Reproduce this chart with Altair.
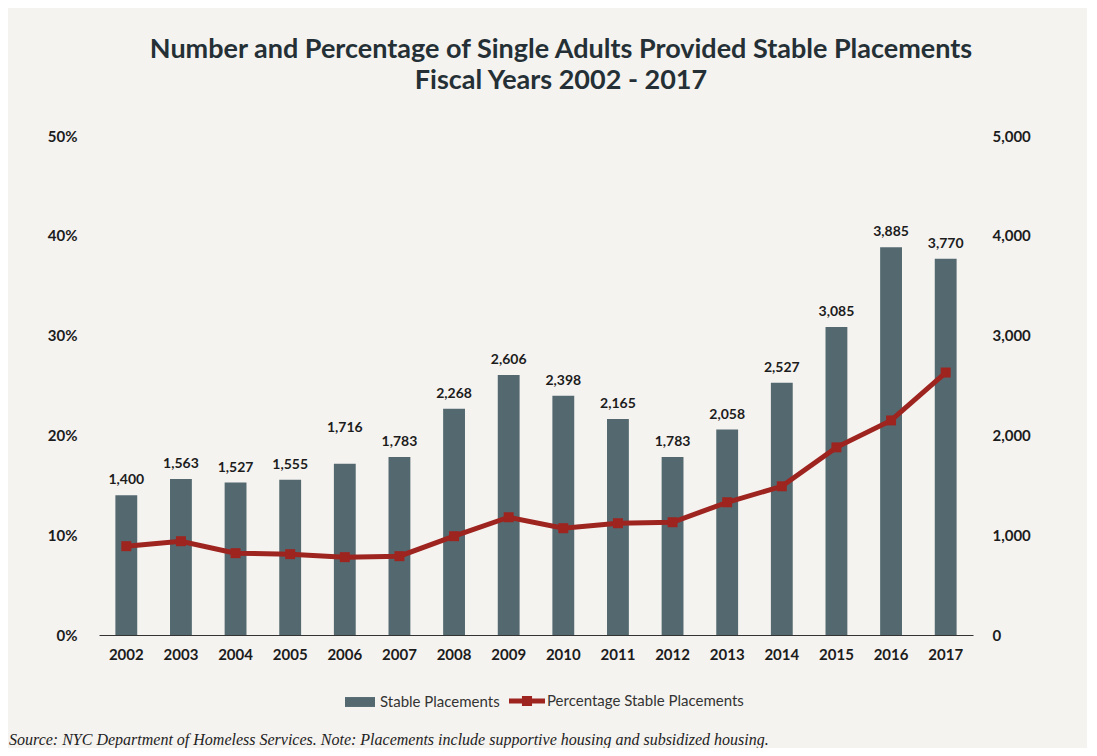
import altair as alt
import pandas as pd

years = [str(y) for y in range(2002, 2018)]
placements = [1400, 1563, 1527, 1555, 1716, 1783, 2268, 2606, 2398, 2165, 1783, 2058, 2527, 3085, 3885, 3770]
pct = [8.9, 9.4, 8.2, 8.1, 7.8, 7.9, 9.9, 11.8, 10.7, 11.2, 11.3, 13.3, 14.9, 18.8, 21.5, 26.3]
bar_series = "Stable Placements"
line_series = "Percentage Stable Placements"
right_ticks = [0, 1000, 2000, 3000, 4000, 5000]
left_ticks = [0, 10, 20, 30, 40, 50]
title_lines = ["Number and Percentage of Single Adults Provided Stable Placements",
               "Fiscal Years 2002 - 2017"]
source_note = "Source:  NYC Department of Homeless Services. Note: Placements include supportive housing and subsidized housing."

BAR = "#53696f"
RED = "#9e2420"
TXT = "#1c1c1c"
FONT = "Lato"

df = pd.DataFrame({"year": years, "placements": placements, "pct": pct,
                   "s1": bar_series, "s2": line_series})

x = alt.X("year:O",
          scale=alt.Scale(paddingInner=0.6, paddingOuter=0.3),
          axis=alt.Axis(title=None, labelAngle=0, labelFontSize=15, labelFontWeight="bold",
                        labelColor=TXT, labelFont=FONT, ticks=False, domain=True,
                        domainColor="#333333", domainWidth=1.2, labelPadding=12, grid=False))

base = alt.Chart(df).encode(x=x)

right_axis = alt.Axis(orient="right", title=None, values=right_ticks, format=",d",
                      labelFontSize=15, labelFontWeight="bold", labelColor=TXT, labelFont=FONT,
                      ticks=False, domain=False, grid=False, labelPadding=19, labelAlign="left")
left_axis = alt.Axis(orient="left", title=None, values=left_ticks,
                     labelExpr="datum.value + '%'",
                     labelFontSize=15, labelFontWeight="bold", labelColor=TXT, labelFont=FONT,
                     ticks=False, domain=False, grid=False, labelPadding=22)

bar_y = alt.Y("placements:Q", scale=alt.Scale(domain=[0, 5000]), axis=right_axis)
line_y = alt.Y("pct:Q", scale=alt.Scale(domain=[0, 50]), axis=left_axis)

bars = base.mark_bar(color=BAR).encode(
    y=bar_y,
    color=alt.Color("s1:N", scale=alt.Scale(domain=[bar_series], range=[BAR]),
                    legend=alt.Legend(title=None, orient="none", legendX=246, legendY=551,
                                      symbolType="M-1,-0.33L1,-0.33L1,0.33L-1,0.33Z",
                                      symbolSize=900, symbolStrokeWidth=0,
                                      labelFontSize=15, labelFont=FONT, labelColor="#333333",
                                      labelOffset=5, labelLimit=400)),
)

labels_main = base.mark_text(baseline="alphabetic", dy=-11, fontSize=14, fontWeight="bold",
                             font=FONT, color=TXT).encode(
    y=bar_y,
    text=alt.Text("placements:Q", format=","),
).transform_filter("datum.year != '2006'")

labels_2006 = base.mark_text(baseline="alphabetic", dy=-32, fontSize=14, fontWeight="bold",
                             font=FONT, color=TXT).encode(
    y=bar_y,
    text=alt.Text("placements:Q", format=","),
).transform_filter("datum.year == '2006'")

line = base.mark_line(color=RED, strokeWidth=5).encode(y=line_y)

pts = base.mark_point(shape="square", filled=True, size=100, opacity=1).encode(
    y=line_y,
    color=alt.Color("s2:N", scale=alt.Scale(domain=[line_series], range=[RED]),
                    legend=alt.Legend(title=None, orient="none", legendX=410, legendY=547,
                                      symbolType="M-1,-0.14L-0.28,-0.14L-0.28,-0.28L0.28,-0.28L0.28,-0.14L1,-0.14L1,0.14L0.28,0.14L0.28,0.28L-0.28,0.28L-0.28,0.14L-1,0.14Z",
                                      symbolSize=1296, symbolStrokeWidth=0,
                                      labelFontSize=15, labelFont=FONT, labelColor="#333333",
                                      labelOffset=2, labelLimit=400)),
)

note = alt.Chart(pd.DataFrame({"t": [source_note]})).mark_text(
    align="left", baseline="middle", font="Liberation Serif", fontStyle="italic",
    fontSize=16, color="#222222").encode(
    text="t:N", x=alt.value(-90), y=alt.value(604))

bar_layer = alt.layer(bars, labels_main, labels_2006)
line_layer = alt.layer(line, pts)

chart = alt.layer(bar_layer, line_layer, note).resolve_scale(
    y="independent", color="independent"
).resolve_legend(color="independent").properties(
    width=874, height=499,
    autosize=alt.AutoSizeParams(type="none"),
    padding={"left": 91, "top": 128, "right": 114, "bottom": 113},
    background="#f5f3f0",
    title=alt.Title(title_lines, anchor="middle", dx=25, offset=34, fontSize=27,
                    fontWeight="bold", font=FONT, color="#243035", lineHeight=31),
).configure_view(stroke=None)

chart.save("out.html", embed_options={"renderer": "svg", "actions": False})
